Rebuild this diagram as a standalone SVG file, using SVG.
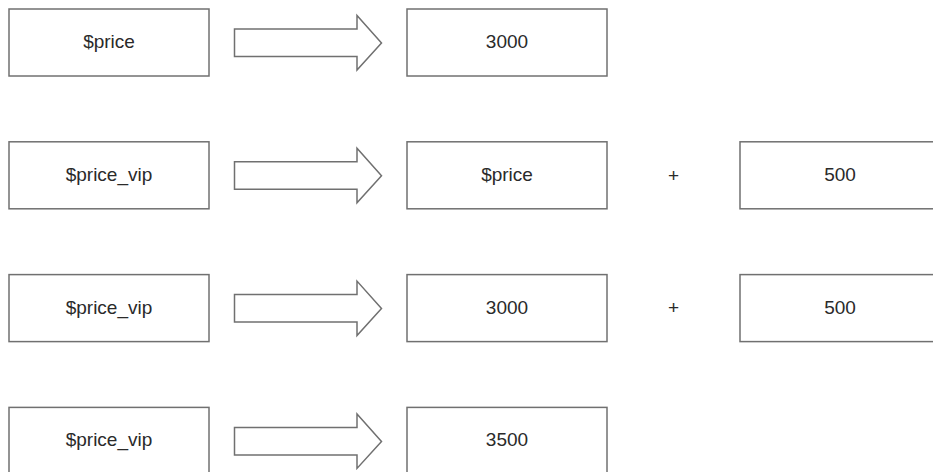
<svg xmlns="http://www.w3.org/2000/svg" width="933" height="472" viewBox="0 0 933 472">
<style>
.box{fill:#fff;stroke:#707070;stroke-width:1.5}
.arr{fill:#fff;stroke:#707070;stroke-width:1.5;stroke-linejoin:miter}
.t{font-family:"Liberation Sans",Arial,sans-serif;font-size:19px;fill:#2a2a2a;text-anchor:middle}
</style>
<defs>
<polygon id="bigArrow" class="arr" points="234.5,20 357,20 357,6.5 381.5,34 357,61 357,47.5 234.5,47.5"/>
</defs>
<rect width="933" height="472" fill="#fff"/>
<g id="connectors">
<use href="#bigArrow" transform="translate(0,9)"/>
<use href="#bigArrow" transform="translate(0,141.8)"/>
<use href="#bigArrow" transform="translate(0,274.6)"/>
<use href="#bigArrow" transform="translate(0,407.4)"/>
</g>
<g id="r1-var"><rect class="box" x="9" y="9" width="200" height="67"/><text class="t" x="109" y="48">$price</text></g>
<g id="r1-val"><rect class="box" x="407" y="9" width="200" height="67"/><text class="t" x="507" y="48">3000</text></g>
<g id="r2-var"><rect class="box" x="9" y="141.8" width="200" height="67"/><text class="t" x="109" y="180.8">$price_vip</text></g>
<g id="r2-a"><rect class="box" x="407" y="141.8" width="200" height="67"/><text class="t" x="507" y="180.8">$price</text></g>
<g id="r2-plus"><text class="t" x="673.5" y="181.5">+</text></g>
<g id="r2-b"><rect class="box" x="740" y="141.8" width="200" height="67"/><text class="t" x="840" y="180.8">500</text></g>
<g id="r3-var"><rect class="box" x="9" y="274.6" width="200" height="67"/><text class="t" x="109" y="313.6">$price_vip</text></g>
<g id="r3-a"><rect class="box" x="407" y="274.6" width="200" height="67"/><text class="t" x="507" y="313.6">3000</text></g>
<g id="r3-plus"><text class="t" x="673.5" y="314.3">+</text></g>
<g id="r3-b"><rect class="box" x="740" y="274.6" width="200" height="67"/><text class="t" x="840" y="313.6">500</text></g>
<g id="r4-var"><rect class="box" x="9" y="407.4" width="200" height="67"/><text class="t" x="109" y="446.4">$price_vip</text></g>
<g id="r4-val"><rect class="box" x="407" y="407.4" width="200" height="67"/><text class="t" x="507" y="446.4">3500</text></g>
</svg>
